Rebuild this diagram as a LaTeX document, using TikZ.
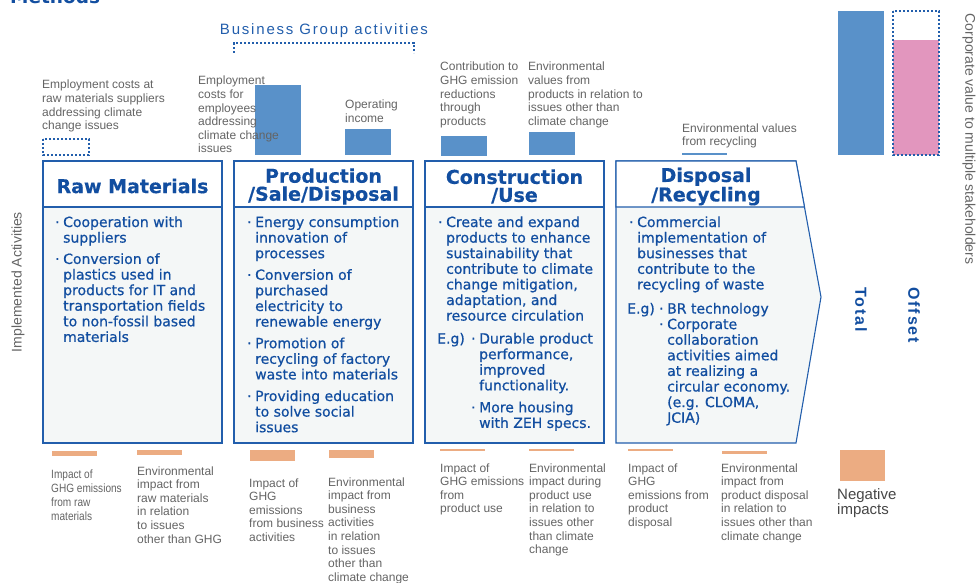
\documentclass[tikz,border=0pt]{standalone}
\usepackage{fontspec}
\setmainfont{DejaVu Sans}
\newfontfamily\notefont{Liberation Sans}
\usetikzlibrary{positioning}
\definecolor{frameblue}{RGB}{34,94,172}
\definecolor{deepblue}{RGB}{18,78,160}
\definecolor{barblue}{RGB}{89,145,201}
\definecolor{offpink}{RGB}{226,150,190}
\definecolor{negorange}{RGB}{236,172,130}
\definecolor{panel}{RGB}{244,247,247}
\definecolor{notegray}{RGB}{100,100,100}
\definecolor{darkgray}{RGB}{70,70,70}
\tikzset{
  stage/.style={draw=frameblue,line width=1.1pt,fill=panel},
  stagehead/.style={draw=frameblue,line width=1.1pt,fill=white},
  headtext/.style={font=\bfseries\fontsize{19}{18}\selectfont\addfontfeature{FakeBold=0.4},text=deepblue,align=center,inner sep=0},
  bodytext/.style={font=\fontsize{14}{15.6}\selectfont\addfontfeature{FakeBold=0.7},text=deepblue,anchor=base west,inner sep=0},
  notetext/.style={font=\notefont\fontsize{12}{13.6}\selectfont,text=notegray,anchor=base west,inner sep=0},
  valuebar/.style={fill=barblue},
  negbar/.style={fill=negorange},
  dashframe/.style={draw=frameblue,line width=1.1pt,dash pattern=on 2.4pt off 1.6pt},
  sidelabel/.style={font=\notefont\fontsize{14}{14}\selectfont,text=notegray,inner sep=0},
  sumlabel/.style={font=\notefont\bfseries\fontsize{16}{16}\selectfont\addfontfeature{LetterSpace=12},
    text=deepblue,inner sep=0,anchor=west,rotate=-90}
}
\newcommand{\stack}[1]{\begin{tabular}[t]{@{}l@{}}#1\end{tabular}}
\newcommand{\itemlist}[1]{\begin{tabular}[t]{@{}p{8pt}@{}l@{}}#1\end{tabular}}
\newcommand{\eglist}[2]{\begin{tabular}[t]{@{}p{#1}@{}p{8pt}@{}l@{}}#2\end{tabular}}

\begin{document}
\begin{tikzpicture}[x=1pt,y=-1pt]
  \useasboundingbox (0,0) rectangle (977,583);
  \node[font=\bfseries\fontsize{18.5}{18.5}\selectfont,text=deepblue,anchor=base west,inner sep=0]
    (methods) at (10,4) {Methods};

  % stage boxes
  \foreach \x in {43,234,425} {
    \draw[stage] (\x,161) rectangle (\x+179,443);
    \draw[stagehead] (\x,161) rectangle (\x+179,207);
  }
  \draw[stage] (616,161) -- (796,161) -- (821,297) -- (796,443) -- (616,443) -- cycle;
  \draw[stagehead] (616,161) -- (796,161) -- (804.5,207) -- (616,207) -- cycle;

  \node[headtext] (raw) at (132.5,186) {Raw Materials};
  \node[headtext] (prod) at (323.5,186.5) {Production\\/Sale/Disposal};
  \node[headtext] (cons) at (514.5,186.5) {Construction\\/Use};
  \node[headtext] (disp) at (706,186.5) {Disposal\\/Recycling};

  \node[bodytext] (rawbody) at (55,227) {\itemlist{
    ·&Cooperation with\\ &suppliers\\[5.7pt]
    ·&Conversion of\\ &plastics used in\\ &products for IT and\\
     &transportation fields\\ &to non-fossil based\\ &materials}};
  \node[bodytext] (prodbody) at (247,227) {\itemlist{
    ·&Energy consumption\\ &innovation of\\ &processes\\[6pt]
    ·&Conversion of\\ &purchased\\ &electricity to\\ &renewable energy\\[6pt]
    ·&Promotion of\\ &recycling of factory\\ &waste into materials\\[6pt]
    ·&Providing education\\ &to solve social\\ &issues}};
  \node[bodytext] (consbody) at (438,227) {\itemlist{
    ·&Create and expand\\ &products to enhance\\ &sustainability that\\
     &contribute to climate\\ &change mitigation,\\ &adaptation, and\\
     &resource circulation}};
  \node[bodytext] (consex) at (437,343.5) {\eglist{34pt}{
    E.g)&·&Durable product\\ & &performance,\\ & &improved\\ & &functionality.\\[6.4pt]
     &·&More housing\\ & &with ZEH specs.}};
  \node[bodytext] (dispbody) at (629,227) {\itemlist{
    ·&Commercial\\ &implementation of\\ &businesses that\\
     &contribute to the\\ &recycling of waste}};
  \node[bodytext] (dispex) at (627,313.5) {\eglist{32pt}{
    E.g)&·&BR technology\\
     &·&Corporate\\ & &collaboration\\ & &activities aimed\\ & &at realizing a\\
     & &circular economy.\\ & &(e.g. CLOMA,\\ & &JCIA)}};

  % values above the stages
  \node[font=\notefont\fontsize{15}{15}\selectfont\addfontfeature{LetterSpace=12},text=frameblue,inner sep=0]
    (group) at (324,31) {Business Group activities};
  \draw[dashframe] (234,53) -- (234,43) -- (414,43) -- (414,53);

  \draw[dashframe] (43,139) rectangle (89,155);
  \fill[valuebar] (255,85) rectangle (301,155);
  \fill[valuebar] (345,129) rectangle (391,155);
  \fill[valuebar] (441,136) rectangle (487,156);
  \fill[valuebar] (529,132) rectangle (575,155);
  \fill[valuebar] (682,153) rectangle (727,155);

  \node[notetext] (supcost) at (42,89) {\stack{Employment costs at\\raw materials suppliers\\addressing climate\\change issues}};
  \node[notetext] (empcost) at (198,85) {\stack{Employment\\costs for\\employees\\addressing\\climate change\\issues}};
  \node[notetext] (opinc) at (345,109) {\stack{Operating\\income}};
  \node[notetext] (ghgcut) at (440,71) {\stack{Contribution to\\GHG emission\\reductions\\through\\products}};
  \node[notetext] (prodval) at (528,71) {\stack{Environmental\\values from\\products in relation to\\issues other than\\climate change}};
  \node[notetext] (recval) at (682,132) {\stack{Environmental values\\from recycling}};

  % negative impacts below the stages
  \foreach \xa/\ya/\yb in {52/451/456,137/450/455,250/450/461,329/450/458,
      440/449.3/451,529/449.3/451,628/449.3/451,722/451/454}
    \fill[negbar] (\xa,\ya) rectangle (\xa+45,\yb);

  \node[notetext,font=\notefont\fontsize{12}{14}\selectfont\addfontfeature{FakeStretch=0.84}]
    (rawghg) at (51,478) {\stack{Impact of\\GHG emissions\\from raw\\materials}};
  \node[notetext] (rawenv) at (137,475) {\stack{Environmental\\impact from\\raw materials\\in relation\\to issues\\other than GHG}};
  \node[notetext] (prodghg) at (249,487) {\stack{Impact of\\GHG\\emissions\\from business\\activities}};
  \node[notetext] (prodenv) at (328,486) {\stack{Environmental\\impact from\\business\\activities\\in relation\\to issues\\other than\\climate change}};
  \node[notetext] (useghg) at (440,472) {\stack{Impact of\\GHG emissions\\from\\product use}};
  \node[notetext] (useenv) at (529,472) {\stack{Environmental\\impact during\\product use\\in relation to\\issues other\\than climate\\change}};
  \node[notetext] (dispghg) at (628,472) {\stack{Impact of\\GHG\\emissions from\\product\\disposal}};
  \node[notetext] (dispenv) at (721,472) {\stack{Environmental\\impact from\\product disposal\\in relation to\\issues other than\\climate change}};

  % totals on the right
  \fill[valuebar] (838,11) rectangle (884,155);
  \fill[offpink] (893,40) rectangle (939,155);
  \draw[dashframe] (893,11) rectangle (939,155);
  \node[sumlabel] (total) at (861,287) {Total};
  \node[sumlabel] (offset) at (914,287) {Offset};

  \fill[negbar] (840,450) rectangle (885,481);
  \node[notetext,font=\notefont\fontsize{15}{15}\selectfont,text=darkgray] (negative) at (837,499) {\stack{Negative\\impacts}};

  \node[sidelabel,rotate=90] (impl) at (18,282) {Implemented Activities};
  \node[sidelabel,rotate=-90] (corpval) at (969,139) {Corporate value to multiple stakeholders};
\end{tikzpicture}
\end{document}
